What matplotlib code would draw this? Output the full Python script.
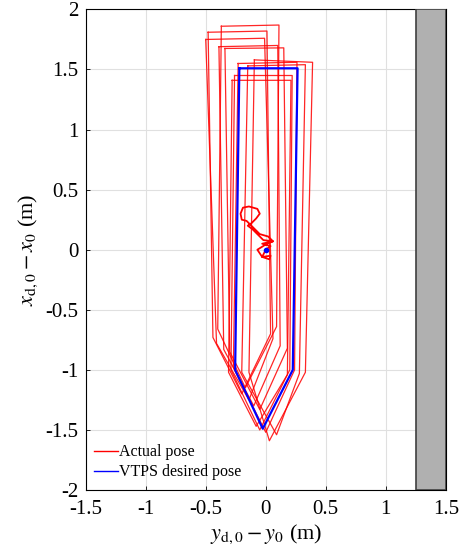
import matplotlib
matplotlib.use("Agg")
import matplotlib.pyplot as plt
from matplotlib.patches import Rectangle

plt.rcParams['font.family'] = ['Liberation Serif', 'DejaVu Serif']
plt.rcParams['mathtext.fontset'] = 'stix'

# actual pose loops: TL, TR, BR bend, tip, BL bend (y_d0 - y0, x_d0 - x0)
actual_loops = {
    'A': [(-0.37, 1.86), (0.11, 1.87), (0.09, -0.64), (-0.17, -1.15), (-0.40, -0.66)],
    'B': [(-0.48, 1.81), (0.01, 1.82), (0.04, -0.70), (-0.20, -1.20), (-0.44, -0.73)],
    'C': [(-0.50, 1.75), (-0.01, 1.76), (0.06, -0.74), (-0.14, -1.25), (-0.41, -0.78)],
    'D': [(-0.39, 1.69), (0.10, 1.70), (0.12, -0.80), (-0.10, -1.30), (-0.35, -0.83)],
    'E': [(-0.34, 1.675), (0.15, 1.68), (0.18, -0.82), (-0.05, -1.33), (-0.30, -0.85)],
    'F': [(-0.095, 1.58), (0.39, 1.56), (0.33, -1.02), (0.03, -1.59), (-0.14, -1.02)],
    'G': [(-0.23, 1.55), (0.26, 1.56), (0.24, -1.00), (0.00, -1.52), (-0.27, -0.98)],
    'H': [(-0.15, 1.53), (0.33, 1.54), (0.28, -1.03), (0.09, -1.54), (-0.20, -1.02)],
    'I': [(-0.26, 1.45), (0.22, 1.45), (0.20, -1.00), (-0.05, -1.50), (-0.29, -1.00)],
    'J': [(-0.28, 1.41), (0.21, 1.41), (0.18, -1.04), (-0.08, -1.47), (-0.31, -1.02)],
}

# wandering near the start
start_y = [0.0, 0.04, -0.03, 0.06, 0.02, -0.05, -0.08, -0.12, -0.16, -0.20, -0.21,
           -0.19, -0.14, -0.07, -0.05, -0.08, -0.12, -0.15, -0.11, -0.06, -0.02,
           0.06, 0.01, -0.07, -0.03, 0.03, 0.04, -0.03, 0.0]
start_x = [0.0, 0.03, 0.05, 0.07, 0.11, 0.13, 0.16, 0.20, 0.24, 0.25, 0.30,
           0.35, 0.36, 0.34, 0.30, 0.26, 0.22, 0.20, 0.17, 0.12, 0.08,
           0.07, 0.05, 0.00, -0.06, -0.08, -0.05, -0.06, 0.0]

desired_loop = [(-0.22, 1.51), (0.265, 1.51), (0.225, -1.0), (-0.025, -1.49), (-0.255, -1.0)]

wall_y = 1.25

fig, ax = plt.subplots(figsize=(4.63, 5.54), dpi=100)
plt.subplots_adjust(left=0.185, right=0.963, top=0.983, bottom=0.1155)

ax.plot(start_y, start_x, color='red', lw=1.3)
first = True
for key, pts in actual_loops.items():
    xs = [p[0] for p in pts] + [pts[0][0]]
    ys = [p[1] for p in pts] + [pts[0][1]]
    ax.plot(xs, ys, color='red', lw=0.9, alpha=0.85,
            label='Actual pose' if first else None)
    first = False

xs = [p[0] for p in desired_loop] + [desired_loop[0][0]]
ys = [p[1] for p in desired_loop] + [desired_loop[0][1]]
ax.plot(xs, ys, color='blue', lw=1.6, label='VTPS desired pose')
ax.plot([0], [0], 'o', color='blue', ms=3)

ax.add_patch(Rectangle((wall_y, -2), 1.5 - wall_y, 4, facecolor='#b0b0b0',
                       edgecolor='#404040', lw=1.2, zorder=3))

ax.set_xlim(-1.5, 1.5)
ax.set_ylim(-2, 2)
ax.set_xticks([-1.5, -1, -0.5, 0, 0.5, 1, 1.5])
ax.set_xticklabels(['-1.5', '-1', '-0.5', '0', '0.5', '1', '1.5'])
ax.set_yticks([-2, -1.5, -1, -0.5, 0, 0.5, 1, 1.5, 2])
ax.set_yticklabels(['-2', '-1.5', '-1', '-0.5', '0', '0.5', '1', '1.5', '2'])
ax.tick_params(direction='in', length=3, labelsize=15, width=0.6)
ax.tick_params(axis='x', pad=7)
ax.tick_params(axis='y', pad=5)
ax.grid(True, color='#e0e0e0', lw=0.8)
ax.set_axisbelow(True)
for s in ax.spines.values():
    s.set_linewidth(0.8)

ax.set_xlabel(r'$y_{\mathrm{d},0}-y_0$ (m)', fontsize=16, labelpad=3)
ax.set_ylabel(r'$x_{\mathrm{d},0}-x_0$ (m)', fontsize=16, labelpad=4)

leg = ax.legend(loc='lower left', frameon=False, fontsize=11.5, handlelength=1.5,
                handletextpad=0.1, labelspacing=0.25, borderaxespad=0.0,
                borderpad=0.0, bbox_to_anchor=(0.022, 0.02))
for h in leg.get_lines():
    h.set_linewidth(1.0)
    h.set_alpha(1.0)

fig.savefig('out.png', dpi=100)
